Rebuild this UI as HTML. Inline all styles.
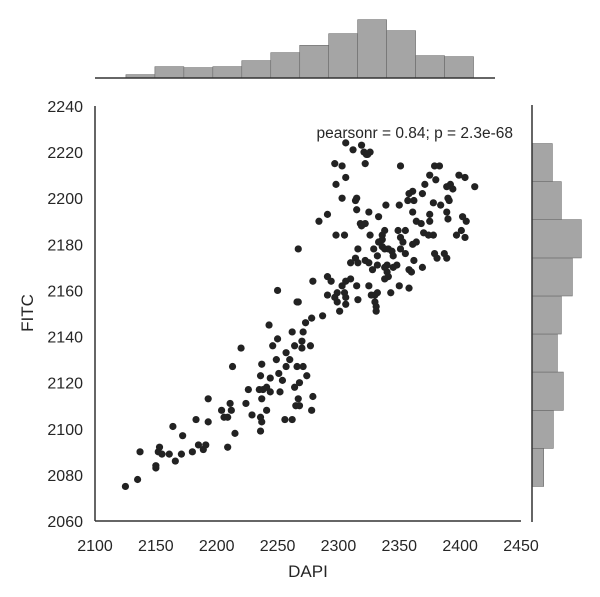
<!DOCTYPE html>
<html><head><meta charset="utf-8"><style>
body{margin:0;background:#fff}
svg{display:block;font-family:"Liberation Sans",Arial,sans-serif}
</style></head><body>
<svg id="c" width="600" height="597">
<g id="grid-layer"></g>
</svg>
<script>
const xTicks=[2100,2150,2200,2250,2300,2350,2400,2450];
const yTicks=[2060,2080,2100,2120,2140,2160,2180,2200,2220,2240];
const dapi=[2125,2135,2137,2150,2150,2153,2152,2155,2161,2166,2171,2164,2172,2180,2183,2185,2189,2191,2193,2193,2204,2206,2209,2211,2212,2209,2215,2213,2220,2224,2226,2229,2236,2237,2236,2235,2238,2241,2244,2237,2241,2236,2237,2244,2251,2254,2252,2249,2257,2260,2257,2246,2250,2243,2262,2264,2266,2271,2274,2268,2264,2267,2265,2268,2256,2262,2270,2270,2271,2273,2277,2266,2278,2279,
2306,2312,2319,2321,2323,2326,2324,2322,2297,2303,2351,2379,2383,2306,2298,2375,2380,2371,2399,2404,2412,2392,2389,2394,2361,2358,2369,2390,2391,2303,2315,2314,2357,2362,2378,2384,2350,2339,2315,2325,2333,2361,2375,2389,2390,2402,2405,2291,2284,2364,2368,2375,2318,2322,2319,2338,2349,2355,2401,2397,2404,2298,2305,2326,2336,2370,2374,2378,2333,2336,2351,2364,2353,2361,2267,2336,2338,2341,2316,2329,2351,2355,2344,2332,2345,2379,2387,2381,2389,2314,2322,2325,2316,2310,2332,2340,2348,2362,2369,2328,2338,2340,2341,2338,2345,2358,2360,2350,2358,2343,2291,2294,2279,2250,2267,2291,2303,2306,2310,2315,2325,2332,2330,2299,2297,2305,2306,2299,2306,2316,2327,2330,2331,2301,2331,2287,2278];
const fitc=[2075,2078,2090,2084,2083,2092,2090,2089,2089,2086,2089,2101,2097,2090,2104,2093,2091,2093,2113,2103,2108,2105,2105,2111,2108,2092,2098,2127,2135,2111,2117,2106,2099,2103,2105,2117,2117,2118,2116,2113,2108,2123,2128,2122,2124,2121,2116,2130,2127,2130,2133,2136,2139,2145,2142,2136,2127,2127,2123,2120,2118,2113,2110,2110,2104,2104,2138,2135,2142,2146,2136,2155,2108,2114,
2224,2221,2223,2220,2219,2220,2219,2215,2215,2214,2214,2214,2214,2209,2206,2210,2208,2206,2210,2209,2205,2206,2205,2204,2203,2202,2202,2200,2199,2200,2200,2199,2199,2199,2198,2197,2197,2197,2195,2194,2192,2194,2193,2194,2191,2192,2190,2193,2190,2190,2189,2190,2189,2189,2188,2186,2186,2186,2186,2184,2183,2184,2184,2184,2184,2185,2184,2184,2181,2182,2183,2181,2181,2180,2178,2179,2178,2178,2178,2178,2178,2176,2177,2175,2175,2176,2176,2174,2174,2174,2173,2172,2172,2172,2171,2171,2171,2173,2170,2169,2170,2168,2166,2165,2170,2169,2168,2162,2161,2159,2166,2164,2164,2160,2155,2158,2162,2164,2165,2162,2162,2159,2158,2159,2157,2159,2157,2155,2154,2156,2158,2155,2153,2151,2151,2149,2148];
const topHistEdges=[2125.4,2149.2,2173.0,2196.8,2220.6,2244.4,2268.2,2292.0,2315.8,2339.6,2363.4,2387.2,2411.0];
const topHistVals=[3.3,11.3,10.3,11.3,17.3,25.3,32.7,44.3,58.3,47.3,22.3,21.3];
const rightHistEdges=[2075,2091.5,2108,2124.6,2141.1,2157.6,2174.1,2190.7,2207.2,2223.7];
const rightHistVals=[11.7,21.3,31.3,25.3,29.3,40.3,49.3,29.3,20.3];

const NS="http://www.w3.org/2000/svg";
const svg=document.getElementById('c');
const L=95,R=521,T=106,B=521;
const X=d=>L+(d-2100)/(2450-2100)*(R-L);
const Y=f=>B-(f-2060)/(2240-2060)*(B-T);
function mk(tag,attrs,parent){const e=document.createElementNS(NS,tag);for(const k in attrs)e.setAttribute(k,attrs[k]);(parent||svg).appendChild(e);return e;}

// top marginal histogram
const gTop=mk('g',{});


topHistVals.forEach((v,i)=>{
  const x0=X(topHistEdges[i]),x1=X(topHistEdges[i+1]);
  const r=mk('rect',{x:x0,y:78-v,width:x1-x0,height:v,fill:'#a5a5a5',stroke:'#6a6a6a','stroke-width':0.6},gTop);
  
  
});
const tl=mk('line',{x1:95,x2:495,y1:78,y2:78,stroke:'#333','stroke-width':1.5});



// right marginal histogram
const gR=mk('g',{});


rightHistVals.forEach((v,i)=>{
  const y0=Y(rightHistEdges[i+1]),y1=Y(rightHistEdges[i]);
  const r=mk('rect',{x:532,y:y0,width:v,height:y1-y0,fill:'#a5a5a5',stroke:'#6a6a6a','stroke-width':0.6},gR);
  
  
});
const rl=mk('line',{x1:532,x2:532,y1:105,y2:522,stroke:'#333','stroke-width':1.5});



// scatter
const gS=mk('g',{});


dapi.forEach((d,i)=>{
  const c=mk('circle',{cx:X(d),cy:Y(fitc[i]),r:3.6,fill:'#222'},gS);
  
  
});

// axes
const ax=mk('line',{x1:L,x2:R,y1:B,y2:B,stroke:'#333','stroke-width':1.5});


const ay=mk('line',{x1:L,x2:L,y1:T,y2:B,stroke:'#333','stroke-width':1.5});


xTicks.forEach(t=>{
  const e=mk('text',{x:X(t),y:551,'text-anchor':'middle','font-size':16,fill:'#262626'});
  e.textContent=t;
  
  
});
yTicks.forEach(t=>{
  const e=mk('text',{x:83,y:Y(t)+6,'text-anchor':'end','font-size':16,fill:'#262626'});
  e.textContent=t;
  
  
});
const xt=mk('text',{x:308,y:577,'text-anchor':'middle','font-size':17,fill:'#262626'});
xt.textContent='DAPI';


const yt=mk('text',{x:0,y:0,'text-anchor':'middle','font-size':17,fill:'#262626',transform:'translate(33,313) rotate(-90)'});
yt.textContent='FITC';


const an=mk('text',{x:513,y:138,'text-anchor':'end','font-size':15.5,fill:'#262626'});
an.textContent='pearsonr = 0.84; p = 2.3e-68';


</script>
</body></html>
